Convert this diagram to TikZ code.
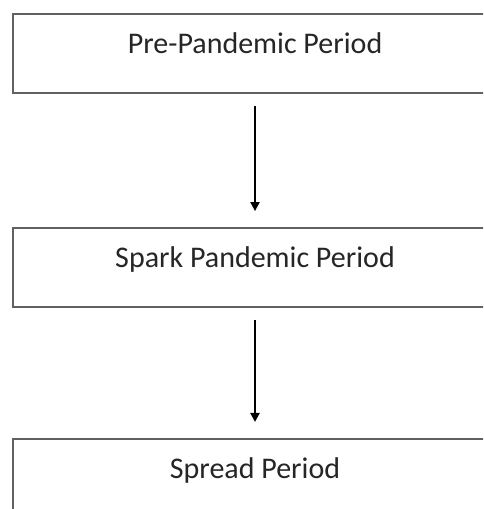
\documentclass[tikz,border=0pt]{standalone}
\usepackage{fontspec}
\setmainfont{Carlito}
\usetikzlibrary{arrows.meta}
\begin{document}
\begin{tikzpicture}[x=1pt,y=1pt,
  periodbox/.style={draw=black!62, line width=1.8pt, rectangle, minimum width=484pt, minimum height=79pt,
    inner sep=0pt, text height=20pt, text depth=20pt, font=\fontsize{30}{32}\selectfont, text=black!85},
  flowarrow/.style={line width=2pt, -{Triangle[length=9pt,width=9pt]}, shorten <=12pt, shorten >=16pt}]
\useasboundingbox (0,0) rectangle (483,509);
\fill[white] (0,0) rectangle (483,509);
\clip (0,0) rectangle (483,509);
\node[periodbox] (pre) at (255,455.5) {Pre-Pandemic Period};
\node[periodbox] (spark) at (255,241.5) {Spark Pandemic Period};
\node[periodbox, anchor=north] (spread) at (255,71) {Spread Period};
\draw[flowarrow] (pre.south) -- (spark.north);
\draw[flowarrow] (spark.south) -- (spread.north);
\end{tikzpicture}
\end{document}
